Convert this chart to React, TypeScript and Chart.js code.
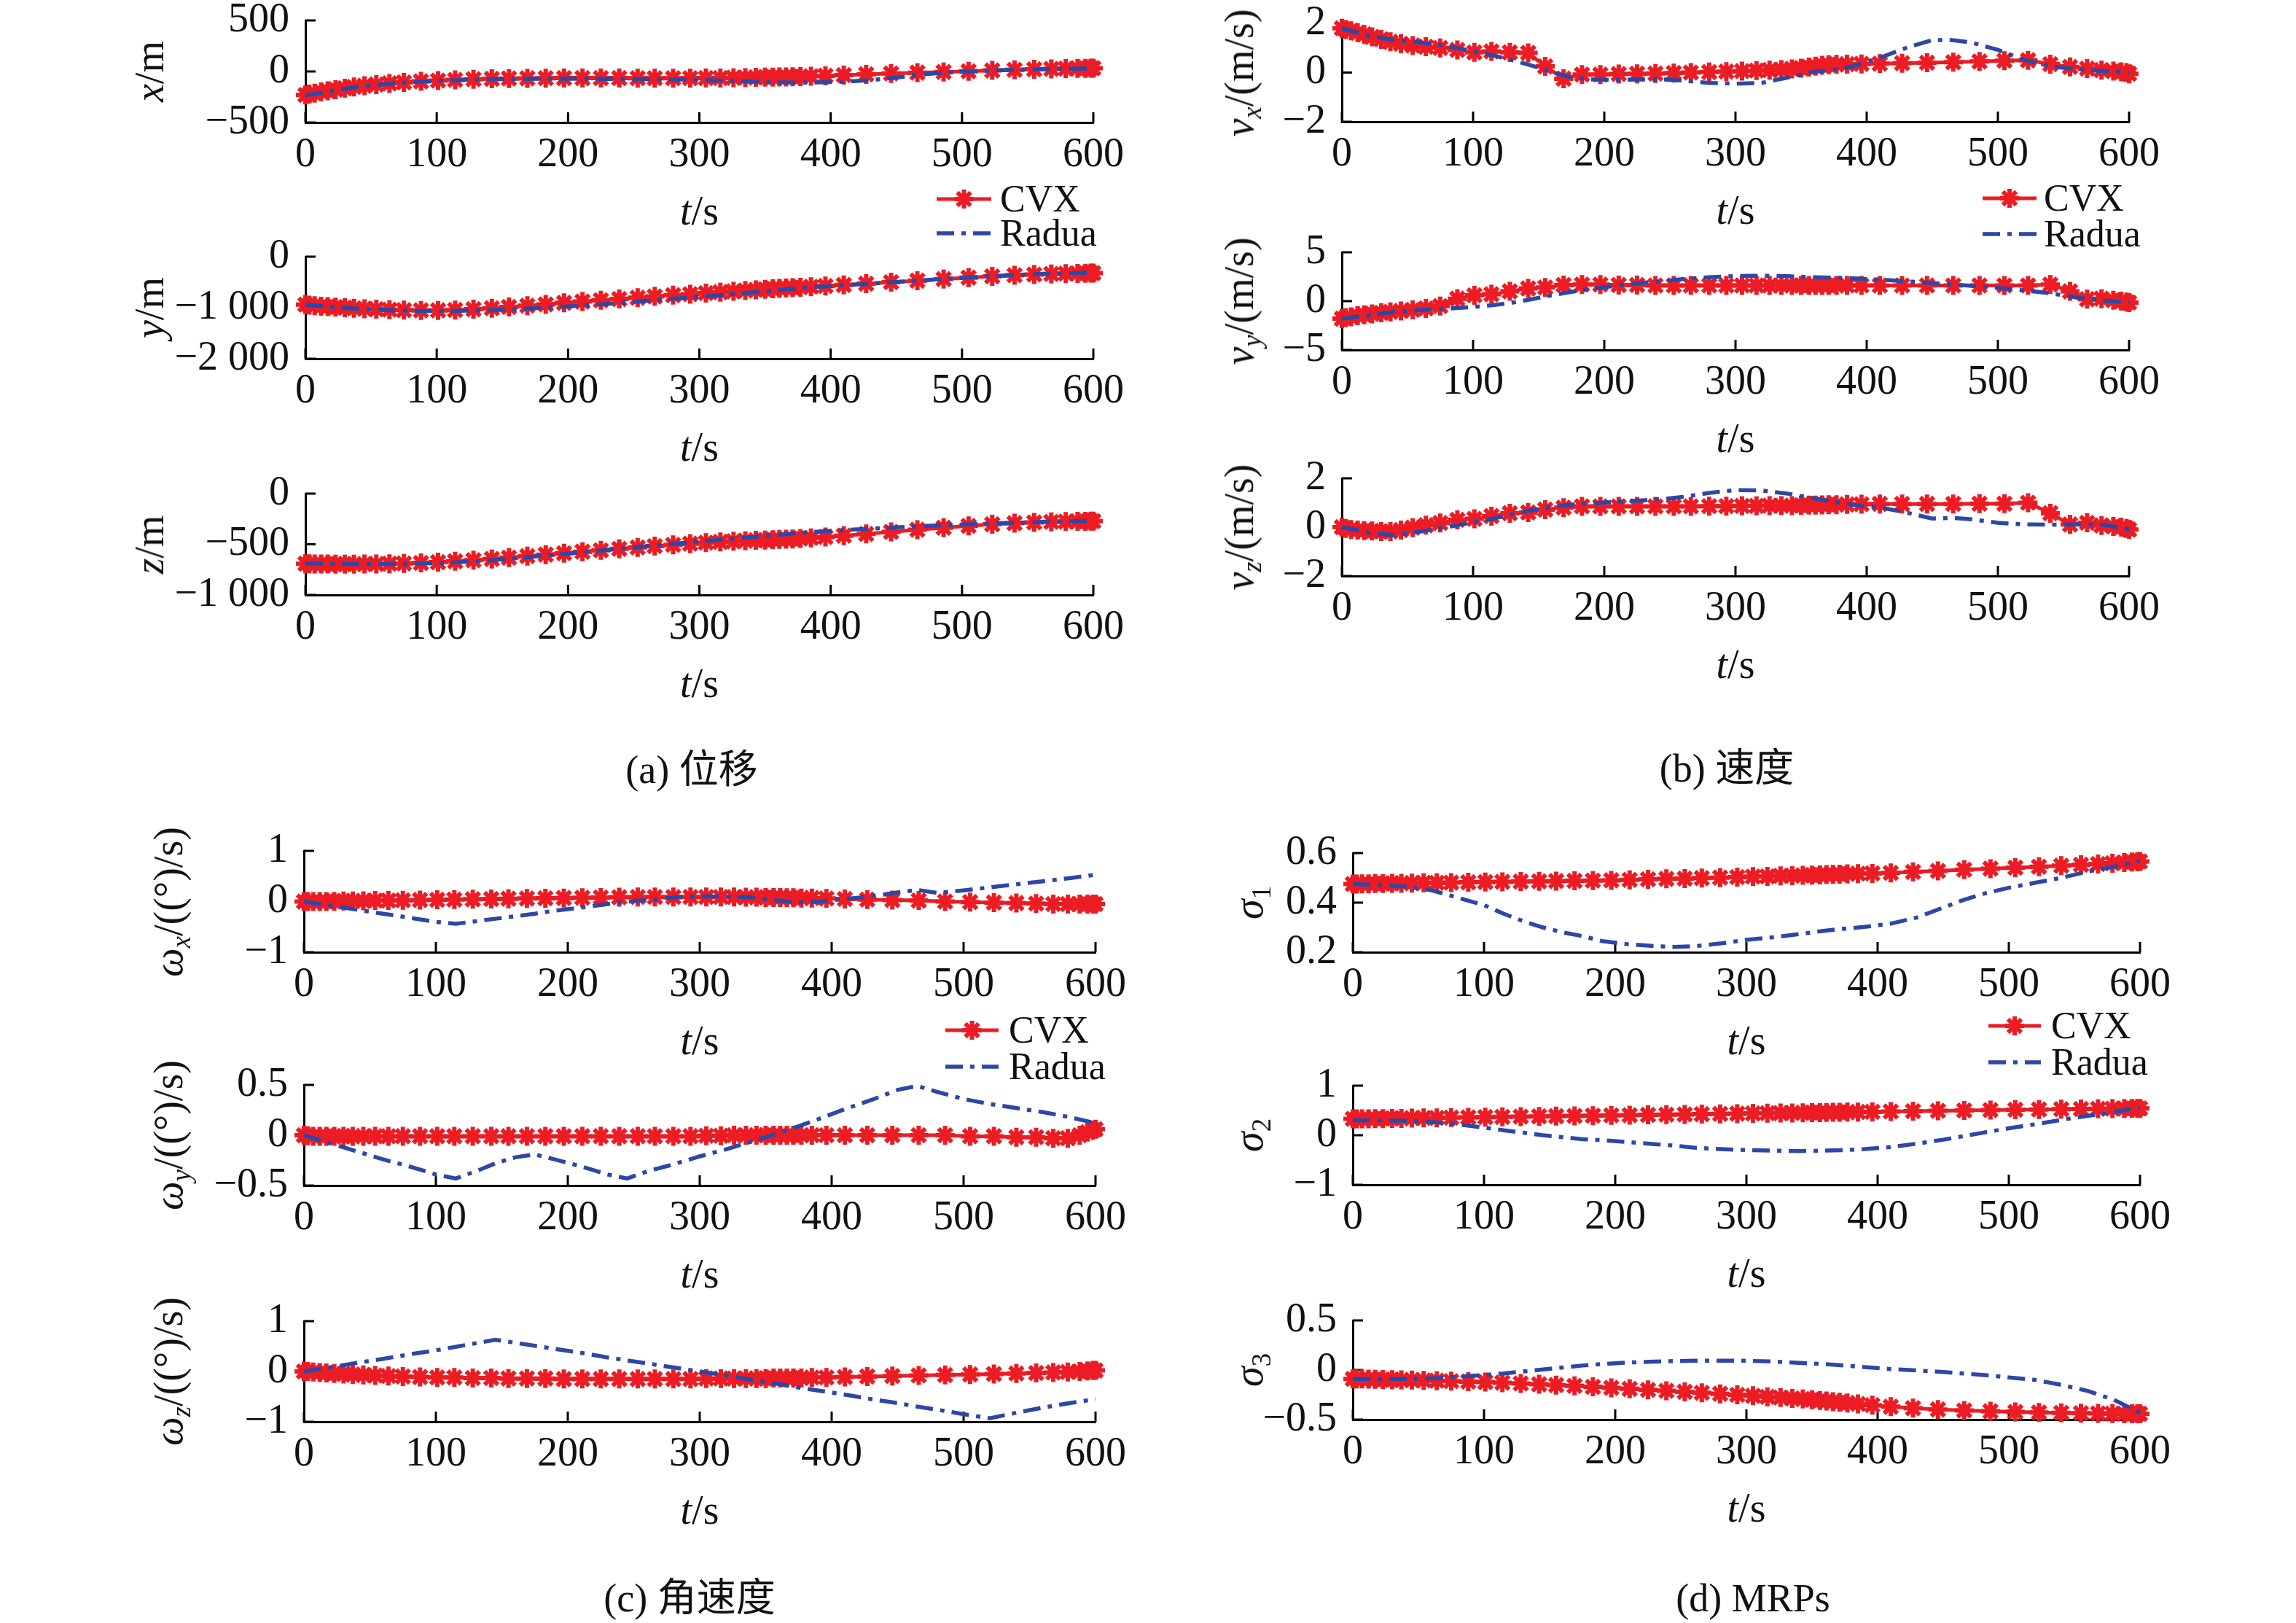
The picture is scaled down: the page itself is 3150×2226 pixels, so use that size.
import React, { useEffect, useRef } from 'react';
import Chart from 'chart.js/auto';

const RED = '#ec1c24';
const BLUE = '#2d47a6';
const INK = '#111111';
const SERIF = "'Liberation Serif', 'Times New Roman', serif";
const CAPTION_FONT = "'Liberation Serif', 'Noto Sans CJK SC', serif";

// room around each plot area inside its canvas
const PAD_L = 200;
const PAD_T = 64;
const PAD_R = 84;
const PAD_B = 95;

// ---- data ----
const X_TICKS = [0, 100, 200, 300, 400, 500, 600];

const T_CVX = [
  0, 3, 7, 12, 17, 23, 30, 37, 45, 54,
  64, 75, 88, 101, 114, 128, 142, 155, 169, 183,
  197, 211, 225, 239, 253, 266, 280, 293, 305, 316,
  326, 335, 343, 350, 356, 361, 366, 371, 377, 385,
  396, 410, 427, 446, 466, 486, 505, 523, 540, 555,
  568, 579, 588, 594, 598, 600,
];
const T_RADUA = [
  0, 20, 40, 60, 80, 100, 115, 130, 145, 160,
  175, 190, 210, 230, 245, 260, 280, 300, 320, 340,
  360, 375, 390, 410, 430, 450, 465, 480, 500, 520,
  540, 560, 580, 600,
];

// (a) position
const X_CVX = [
  -230, -222, -212, -200, -190, -178, -165, -152, -140, -128,
  -117, -107, -97, -89, -82, -76, -72, -69, -67, -66,
  -65, -65, -65, -65, -66, -66, -66, -66, -65, -64,
  -62, -60, -58, -56, -55, -54, -53, -52, -50, -47,
  -42, -36, -28, -20, -12, -5, 2, 10, 16, 21,
  25, 28, 30, 31, 32, 32,
];
const X_RADUA = [
  -235, -190, -150, -125, -105, -92, -85, -80, -76, -73,
  -72, -72, -72, -73, -74, -76, -79, -83, -90, -100,
  -108, -110, -108, -100, -85, -60, -35, -18, -3, 8,
  16, 22, 27, 30,
];
const Y_CVX = [
  -940, -950, -960, -970, -980, -990, -1000, -1010, -1020, -1030,
  -1040, -1048, -1052, -1052, -1045, -1030, -1010, -985, -960, -935,
  -905, -880, -855, -830, -805, -780, -755, -735, -715, -695,
  -680, -665, -650, -640, -630, -622, -615, -608, -600, -590,
  -575, -555, -530, -500, -470, -440, -410, -385, -365, -350,
  -340, -332, -328, -325, -323, -322,
];
const Y_RADUA = [
  -940, -985, -1020, -1045, -1060, -1065, -1062, -1055, -1045, -1030,
  -1010, -990, -960, -925, -895, -865, -825, -785, -745, -700,
  -655, -620, -590, -560, -530, -495, -470, -448, -415, -385,
  -360, -340, -325, -310,
];
const Z_CVX = [
  -692, -693, -694, -695, -695, -696, -696, -696, -695, -694,
  -692, -689, -684, -677, -668, -657, -645, -632, -617, -602,
  -588, -573, -559, -545, -531, -518, -505, -494, -484, -476,
  -470, -465, -461, -458, -455, -452, -450, -447, -443, -437,
  -428, -415, -398, -378, -356, -336, -318, -303, -292, -284,
  -279, -276, -274, -273, -272, -272,
];
const Z_RADUA = [
  -690, -692, -694, -694, -692, -686, -678, -667, -654, -638,
  -621, -603, -580, -556, -538, -520, -496, -472, -450, -428,
  -406, -390, -376, -360, -346, -333, -324, -315, -305, -295,
  -287, -280, -274, -268,
];

// (b) velocity
const VX_CVX = [
  1.8, 1.75, 1.7, 1.62, 1.55, 1.45, 1.35, 1.25, 1.17, 1.1,
  1.05, 1.0, 0.92, 0.82, 0.86, 0.82, 0.8, 0.25, -0.25, -0.08,
  -0.08, -0.06, -0.05, -0.04, -0.02, 0, 0.02, 0.04, 0.06, 0.08,
  0.1, 0.12, 0.15, 0.18, 0.22, 0.26, 0.3, 0.32, 0.33, 0.34,
  0.35, 0.36, 0.38, 0.4, 0.42, 0.45, 0.48, 0.5, 0.34, 0.23,
  0.16, 0.1, 0.06, 0.03, 0.0, -0.05,
];
const VX_RADUA = [
  1.8, 1.5, 1.32, 1.22, 1.08, 0.86, 0.7, 0.5, 0.28, 0.02,
  -0.2, -0.28, -0.3, -0.28, -0.28, -0.33, -0.42, -0.45, -0.42, -0.2,
  0.03, 0.12, 0.26, 0.6, 1.0, 1.32, 1.32, 1.22, 0.92, 0.52,
  0.25, 0.14, 0.06, 0,
];
const VY_CVX = [
  -1.8, -1.7, -1.6, -1.5, -1.4, -1.3, -1.2, -1.1, -1.0, -0.9,
  -0.75, -0.5, 0.25, 0.6, 0.7, 1.0, 1.3, 1.4, 1.65, 1.7,
  1.7, 1.65, 1.65, 1.6, 1.6, 1.6, 1.6, 1.6, 1.6, 1.6,
  1.6, 1.6, 1.6, 1.6, 1.6, 1.6, 1.6, 1.6, 1.6, 1.6,
  1.6, 1.6, 1.6, 1.6, 1.6, 1.6, 1.6, 1.6, 1.7, 1.0,
  0.2, 0.25, 0.1, 0.0, -0.1, -0.15,
];
const VY_RADUA = [
  -1.8, -1.45, -1.1, -0.92, -0.78, -0.6, -0.42, -0.15, 0.2, 0.6,
  0.95, 1.25, 1.6, 1.88, 2.05, 2.25, 2.45, 2.57, 2.6, 2.55,
  2.45, 2.4, 2.33, 2.2, 2.03, 1.85, 1.7, 1.57, 1.35, 1.1,
  0.8, 0.38, 0.05, -0.12,
];
const VZ_CVX = [
  0, -0.05, -0.1, -0.12, -0.14, -0.16, -0.18, -0.18, -0.12, -0.02,
  0.08, 0.17, 0.3, 0.34, 0.45, 0.57, 0.6, 0.72, 0.8, 0.85,
  0.85, 0.85, 0.85, 0.85, 0.85, 0.85, 0.86, 0.86, 0.87, 0.87,
  0.88, 0.88, 0.88, 0.89, 0.9, 0.9, 0.91, 0.92, 0.92, 0.93,
  0.94, 0.95, 0.95, 0.95, 0.95, 0.96, 0.96, 1.0, 0.57, 0.11,
  0.18, 0.07, 0.03, 0.0, -0.05, -0.1,
];
const VZ_RADUA = [
  0, -0.22, -0.33, -0.18, 0.0, 0.2, 0.35, 0.53, 0.7, 0.83,
  0.92, 0.98, 1.04, 1.1, 1.15, 1.24, 1.4, 1.52, 1.5, 1.37,
  1.18, 1.04, 0.91, 0.81, 0.6, 0.35, 0.38, 0.32, 0.18, 0.11,
  0.1, 0.11, 0.1, -0.08,
];

// (c) angular velocity
const WX_CVX = [
  0, 0, 0, 0, 0, 0.005, 0.01, 0.01, 0.015, 0.02,
  0.02, 0.025, 0.03, 0.035, 0.04, 0.045, 0.05, 0.055, 0.06, 0.065,
  0.07, 0.075, 0.08, 0.085, 0.09, 0.09, 0.09, 0.09, 0.09, 0.09,
  0.09, 0.085, 0.085, 0.08, 0.08, 0.08, 0.075, 0.075, 0.07, 0.07,
  0.06, 0.05, 0.04, 0.03, 0.02, 0.0, -0.01, -0.02, -0.03, -0.04,
  -0.05, -0.05, -0.05, -0.05, -0.05, -0.05,
];
const WX_RADUA = [
  0, -0.08, -0.16, -0.24, -0.32, -0.4, -0.44, -0.39, -0.34, -0.29,
  -0.24, -0.18, -0.12, -0.05, 0, 0.03, 0.08, 0.1, 0.1, 0.08,
  0.02, -0.02, 0, 0.05, 0.1, 0.18, 0.23, 0.17, 0.22, 0.28,
  0.34, 0.4, 0.46, 0.53,
];
const WY_CVX = [
  0, -0.005, -0.01, -0.01, -0.01, -0.01, -0.01, -0.01, -0.01, -0.01,
  -0.01, -0.01, -0.01, -0.01, -0.01, -0.01, -0.01, -0.01, -0.01, -0.01,
  -0.01, -0.01, -0.01, -0.01, -0.01, -0.01, -0.01, -0.01, -0.005, -0.005,
  0, 0, 0, 0, 0, 0, 0, 0, 0, 0,
  0, 0, 0, 0, 0, 0, -0.01, -0.01, -0.02, -0.02,
  -0.03, -0.03, 0.0, 0.03, 0.05, 0.06,
];
const WY_RADUA = [
  0, -0.08, -0.16, -0.24, -0.31, -0.39, -0.43, -0.36, -0.28, -0.22,
  -0.19, -0.24, -0.31, -0.39, -0.43, -0.36, -0.29, -0.21, -0.14, -0.06,
  0.02, 0.09, 0.16, 0.26, 0.35, 0.45, 0.49, 0.43, 0.36, 0.31,
  0.27, 0.23, 0.18, 0.12,
];
const WZ_CVX = [
  0, 0, -0.01, -0.02, -0.03, -0.04, -0.05, -0.06, -0.07, -0.08,
  -0.09, -0.1, -0.11, -0.12, -0.12, -0.13, -0.13, -0.14, -0.14, -0.14,
  -0.15, -0.15, -0.15, -0.15, -0.15, -0.15, -0.15, -0.15, -0.14, -0.14,
  -0.14, -0.14, -0.14, -0.14, -0.13, -0.13, -0.13, -0.13, -0.13, -0.12,
  -0.12, -0.11, -0.1, -0.09, -0.08, -0.07, -0.06, -0.05, -0.04, -0.03,
  -0.02, -0.01, 0, 0.01, 0.02, 0.02,
];
const WZ_RADUA = [
  0, 0.08, 0.17, 0.25, 0.34, 0.42, 0.49, 0.56, 0.63, 0.57,
  0.51, 0.45, 0.37, 0.28, 0.22, 0.16, 0.08, 0, -0.08, -0.17,
  -0.25, -0.32, -0.38, -0.46, -0.55, -0.63, -0.7, -0.76, -0.85, -0.93,
  -0.82, -0.72, -0.63, -0.55,
];

// (d) MRPs
const S1_CVX = [
  0.475, 0.475, 0.476, 0.476, 0.477, 0.477, 0.478, 0.478, 0.479, 0.48,
  0.48, 0.481, 0.482, 0.483, 0.484, 0.485, 0.486, 0.487, 0.488, 0.489,
  0.49, 0.492, 0.494, 0.496, 0.497, 0.499, 0.501, 0.503, 0.505, 0.506,
  0.508, 0.509, 0.51, 0.511, 0.512, 0.513, 0.514, 0.515, 0.516, 0.517,
  0.518, 0.52, 0.524, 0.528, 0.533, 0.537, 0.541, 0.545, 0.549, 0.553,
  0.556, 0.559, 0.562, 0.564, 0.565, 0.566,
];
const S1_RADUA = [
  0.475, 0.472, 0.465, 0.45, 0.42, 0.39, 0.355, 0.325, 0.3, 0.28,
  0.265, 0.245, 0.232, 0.225, 0.221, 0.224, 0.235, 0.25, 0.26, 0.273,
  0.287, 0.295, 0.302, 0.315, 0.34, 0.38, 0.41, 0.435, 0.46, 0.48,
  0.5, 0.525, 0.545, 0.568,
];
const S2_CVX = [
  0.33, 0.33, 0.33, 0.33, 0.335, 0.335, 0.34, 0.34, 0.345, 0.35,
  0.35, 0.355, 0.36, 0.365, 0.37, 0.375, 0.38, 0.385, 0.39, 0.395,
  0.4, 0.405, 0.41, 0.415, 0.42, 0.425, 0.43, 0.435, 0.44, 0.445,
  0.447, 0.45, 0.452, 0.455, 0.457, 0.46, 0.462, 0.464, 0.466, 0.468,
  0.472, 0.478, 0.485, 0.492, 0.5, 0.507, 0.514, 0.52, 0.525, 0.53,
  0.533, 0.536, 0.538, 0.539, 0.54, 0.54,
];
const S2_RADUA = [
  0.3, 0.3, 0.29, 0.27, 0.22, 0.155, 0.1, 0.05, 0.0, -0.04,
  -0.08, -0.1, -0.14, -0.18, -0.21, -0.25, -0.28, -0.3, -0.31, -0.32,
  -0.31, -0.3, -0.28, -0.24, -0.17, -0.09, -0.02, 0.05, 0.14, 0.22,
  0.31, 0.39, 0.47, 0.56,
];
const S3_CVX = [
  -0.09, -0.09, -0.09, -0.092, -0.094, -0.096, -0.098, -0.1, -0.102, -0.105,
  -0.108, -0.112, -0.117, -0.122, -0.128, -0.136, -0.144, -0.152, -0.16, -0.17,
  -0.18, -0.19, -0.2, -0.21, -0.22, -0.23, -0.24, -0.25, -0.26, -0.27,
  -0.278, -0.286, -0.293, -0.3, -0.307, -0.313, -0.319, -0.325, -0.332, -0.342,
  -0.355, -0.37, -0.385, -0.398, -0.408, -0.416, -0.423, -0.428, -0.432, -0.436,
  -0.438, -0.44, -0.441, -0.442, -0.442, -0.442,
];
const S3_RADUA = [
  -0.09, -0.09, -0.09, -0.085, -0.07, -0.05, -0.035, -0.015, 0.005, 0.025,
  0.045, 0.06, 0.075, 0.085, 0.09, 0.093, 0.093, 0.093, 0.085, 0.072,
  0.06, 0.045, 0.03, 0.01, -0.005, -0.02, -0.035, -0.05, -0.075, -0.1,
  -0.15, -0.21, -0.3, -0.43,
];

const Y_TICKS_X = [-500, 0, 500];
const Y_TICKS_Y = [-2000, -1000, 0];
const Y_TICKS_Z = [-1000, -500, 0];
const Y_TICKS_V2 = [-2, 0, 2];
const Y_TICKS_V5 = [-5, 0, 5];
const Y_TICKS_W1 = [-1, 0, 1];
const Y_TICKS_W05 = [-0.5, 0, 0.5];
const Y_TICKS_S1 = [0.2, 0.4, 0.6];
const Y_TICKS_S2 = [-1, 0, 1];
const Y_TICKS_S3 = [-0.5, 0, 0.5];

// ---- helpers ----
const fmtTick = (v: number) => {
  const r = Math.round(v * 1000) / 1000;
  const abs = Math.abs(r);
  const body = abs >= 1000 ? String(abs).replace(/\B(?=(\d{3})+(?!\d))/g, ' ') : String(abs);
  return (r < 0 ? '\u2212' : '') + body;
};

const pts = (t: number[], v: number[]) => t.map((x, i) => ({ x, y: v[i] }));

const inwardTicks = {
  id: 'inwardTicks',
  beforeDatasetsDraw(chart: any) {
    const { ctx, chartArea, scales } = chart;
    ctx.save();
    ctx.strokeStyle = '#000';
    ctx.lineWidth = 3;
    ctx.beginPath();
    scales.x.ticks.forEach((t: any) => {
      const px = scales.x.getPixelForValue(t.value);
      ctx.moveTo(px, chartArea.bottom);
      ctx.lineTo(px, chartArea.bottom - 14);
    });
    scales.y.ticks.forEach((t: any) => {
      const py = scales.y.getPixelForValue(t.value);
      ctx.moveTo(chartArea.left, py);
      ctx.lineTo(chartArea.left + 14, py);
    });
    ctx.stroke();
    ctx.restore();
  },
};

interface Box { left: number; right: number; top: number; bottom: number }

interface PanelProps {
  box: Box;
  yTicks: number[];
  cvx: number[];
  radua: number[];
}

const Panel: React.FC<PanelProps> = ({ box, yTicks, cvx, radua }) => {
  const canvasRef = useRef<HTMLCanvasElement | null>(null);
  const w = PAD_L + box.right - box.left + PAD_R;
  const h = PAD_T + box.bottom - box.top + PAD_B;

  useEffect(() => {
    if (!canvasRef.current) return;
    const tickFont = { family: SERIF, size: 56 };
    const chart = new Chart(canvasRef.current, {
      type: 'line',
      data: {
        datasets: [
          {
            label: 'Radua',
            data: pts(T_RADUA, radua),
            borderColor: BLUE,
            borderWidth: 5.5,
            borderDash: [24, 10, 6, 10],
            pointRadius: 0,
            tension: 0,
            clip: false as any,
          },
          {
            label: 'CVX',
            data: pts(T_CVX, cvx),
            borderColor: RED,
            backgroundColor: RED,
            borderWidth: 5,
            pointStyle: 'star',
            pointRadius: 13,
            pointBorderWidth: 6,
            pointBorderColor: RED,
            pointBackgroundColor: RED,
            tension: 0,
            clip: false as any,
          },
        ],
      },
      options: {
        animation: false,
        responsive: false,
        events: [],
        layout: { padding: { top: PAD_T, right: PAD_R, left: 0, bottom: 0 } },
        plugins: { legend: { display: false }, tooltip: { enabled: false } },
        scales: {
          x: {
            type: 'linear',
            min: 0,
            max: 600,
            afterBuildTicks: (s: any) => { s.ticks = X_TICKS.map((value) => ({ value })); },
            afterFit: (s: any) => { s.height = PAD_B; },
            grid: { display: true, drawOnChartArea: false, drawTicks: false },
            border: { display: true, color: '#000', width: 3 },
            ticks: {
              font: tickFont,
              color: INK,
              padding: 12,
              autoSkip: false,
              maxRotation: 0,
              callback: (v: any) => fmtTick(Number(v)),
            },
          },
          y: {
            type: 'linear',
            min: yTicks[0],
            max: yTicks[yTicks.length - 1],
            afterBuildTicks: (s: any) => { s.ticks = yTicks.map((value) => ({ value })); },
            afterFit: (s: any) => { s.width = PAD_L; },
            grid: { display: true, drawOnChartArea: false, drawTicks: false },
            border: { display: true, color: '#000', width: 3 },
            ticks: {
              font: tickFont,
              color: INK,
              padding: 22,
              autoSkip: false,
              callback: (v: any) => fmtTick(Number(v)),
            },
          },
        },
      },
      plugins: [inwardTicks],
    });
    return () => chart.destroy();
  }, []);

  return (
    <canvas
      ref={canvasRef}
      width={w}
      height={h}
      style={{ position: 'absolute', left: box.left - PAD_L, top: box.top - PAD_T, width: w, height: h }}
    />
  );
};

const Centered: React.FC<{ x: number; y: number; rotate?: boolean; size?: number; family?: string; children: React.ReactNode }> = ({ x, y, rotate, size = 56, family = SERIF, children }) => (
  <div
    style={{
      position: 'absolute',
      left: x,
      top: y,
      transform: `translate(-50%, -50%)${rotate ? ' rotate(-90deg)' : ''}`,
      whiteSpace: 'nowrap',
      fontFamily: family,
      fontSize: size,
      lineHeight: 1,
      color: INK,
    }}
  >
    {children}
  </div>
);

const Sub: React.FC<{ italic?: boolean; children: React.ReactNode }> = ({ italic, children }) => (
  <span style={{ fontSize: '0.66em', position: 'relative', top: '0.3em', fontStyle: italic ? 'italic' : 'normal' }}>{children}</span>
);

const Legend: React.FC<{ x1: number; x2: number; tx: number; y1: number; y2: number }> = ({ x1, x2, tx, y1, y2 }) => {
  const len = x2 - x1;
  const c = len / 2;
  const r = 13;
  const d = r * Math.SQRT1_2;
  return (
    <>
      <svg style={{ position: 'absolute', left: x1, top: y1 - 16 }} width={len} height={32}>
        <line x1={0} y1={16} x2={len} y2={16} stroke={RED} strokeWidth={5} />
        <g stroke={RED} strokeWidth={6}>
          <line x1={c - r} y1={16} x2={c + r} y2={16} />
          <line x1={c} y1={16 - r} x2={c} y2={16 + r} />
          <line x1={c - d} y1={16 - d} x2={c + d} y2={16 + d} />
          <line x1={c - d} y1={16 + d} x2={c + d} y2={16 - d} />
        </g>
      </svg>
      <svg style={{ position: 'absolute', left: x1, top: y2 - 16 }} width={len} height={32}>
        <line x1={0} y1={16} x2={len} y2={16} stroke={BLUE} strokeWidth={5.5} strokeDasharray="24 10 6 10" />
      </svg>
      <div style={{ position: 'absolute', left: tx, top: y1, transform: 'translateY(-50%)', fontFamily: SERIF, fontSize: 52, lineHeight: 1, color: INK }}>CVX</div>
      <div style={{ position: 'absolute', left: tx, top: y2, transform: 'translateY(-50%)', fontFamily: SERIF, fontSize: 52, lineHeight: 1, color: INK }}>Radua</div>
    </>
  );
};

// ---- layout ----
const rows = (left: number, right: number, spans: number[][]): Box[] =>
  spans.map(([top, bottom]) => ({ left, right, top, bottom }));

const BOX_A = rows(419, 1500, [[28, 168], [352, 492], [677, 816]]);
const BOX_B = rows(1841, 2921, [[32, 167], [346, 480], [656, 790]]);
const BOX_C = rows(417, 1503, [[1167, 1306], [1488, 1626], [1812, 1950]]);
const BOX_D = rows(1856, 2936, [[1170, 1306], [1489, 1625], [1811, 1947]]);

const it = (s: string) => <i>{s}</i>;

const PANELS = [
  { box: BOX_A[0], yTicks: Y_TICKS_X, cvx: X_CVX, radua: X_RADUA, labelX: 205, title: <>{it('x')}/m</> },
  { box: BOX_A[1], yTicks: Y_TICKS_Y, cvx: Y_CVX, radua: Y_RADUA, labelX: 205, title: <>{it('y')}/m</> },
  { box: BOX_A[2], yTicks: Y_TICKS_Z, cvx: Z_CVX, radua: Z_RADUA, labelX: 205, title: <>{it('z')}/m</> },
  { box: BOX_B[0], yTicks: Y_TICKS_V2, cvx: VX_CVX, radua: VX_RADUA, labelX: 1700, title: <>{it('v')}<Sub italic>x</Sub>/(m/s)</> },
  { box: BOX_B[1], yTicks: Y_TICKS_V5, cvx: VY_CVX, radua: VY_RADUA, labelX: 1700, title: <>{it('v')}<Sub italic>y</Sub>/(m/s)</> },
  { box: BOX_B[2], yTicks: Y_TICKS_V2, cvx: VZ_CVX, radua: VZ_RADUA, labelX: 1700, title: <>{it('v')}<Sub italic>z</Sub>/(m/s)</> },
  { box: BOX_C[0], yTicks: Y_TICKS_W1, cvx: WX_CVX, radua: WX_RADUA, labelX: 231, title: <>{it('ω')}<Sub italic>x</Sub>/((°)/s)</> },
  { box: BOX_C[1], yTicks: Y_TICKS_W05, cvx: WY_CVX, radua: WY_RADUA, labelX: 231, title: <>{it('ω')}<Sub italic>y</Sub>/((°)/s)</> },
  { box: BOX_C[2], yTicks: Y_TICKS_W1, cvx: WZ_CVX, radua: WZ_RADUA, labelX: 231, title: <>{it('ω')}<Sub italic>z</Sub>/((°)/s)</> },
  { box: BOX_D[0], yTicks: Y_TICKS_S1, cvx: S1_CVX, radua: S1_RADUA, labelX: 1713, title: <>{it('σ')}<Sub>1</Sub></> },
  { box: BOX_D[1], yTicks: Y_TICKS_S2, cvx: S2_CVX, radua: S2_RADUA, labelX: 1713, title: <>{it('σ')}<Sub>2</Sub></> },
  { box: BOX_D[2], yTicks: Y_TICKS_S3, cvx: S3_CVX, radua: S3_RADUA, labelX: 1713, title: <>{it('σ')}<Sub>3</Sub></> },
];

const LEGENDS = [
  { x1: 1285, x2: 1360, tx: 1372, y1: 273, y2: 320 },
  { x1: 2720, x2: 2794, tx: 2804, y1: 272, y2: 321 },
  { x1: 1297, x2: 1370, tx: 1384, y1: 1413, y2: 1463 },
  { x1: 2728, x2: 2800, tx: 2814, y1: 1407, y2: 1457 },
];

const CAPTIONS = [
  { x: 949, y: 1056, text: '(a) 位移' },
  { x: 2369, y: 1054, text: '(b) 速度' },
  { x: 946, y: 2192, text: '(c) 角速度' },
  { x: 2405, y: 2192, text: '(d) MRPs' },
];

export default function App() {
  return (
    <div style={{ position: 'absolute', left: 0, top: 0, width: 3150, height: 2226, background: '#fff', overflow: 'hidden' }}>
      {PANELS.map((p, i) => (
        <React.Fragment key={i}>
          <Panel box={p.box} yTicks={p.yTicks} cvx={p.cvx} radua={p.radua} />
          <Centered x={p.labelX} y={(p.box.top + p.box.bottom) / 2} rotate>{p.title}</Centered>
          <Centered x={(p.box.left + p.box.right) / 2} y={p.box.bottom + 121}>{it('t')}/s</Centered>
        </React.Fragment>
      ))}
      {LEGENDS.map((l, i) => <Legend key={i} {...l} />)}
      {CAPTIONS.map((c, i) => (
        <Centered key={i} x={c.x} y={c.y} size={54} family={CAPTION_FONT}>{c.text}</Centered>
      ))}
    </div>
  );
}
